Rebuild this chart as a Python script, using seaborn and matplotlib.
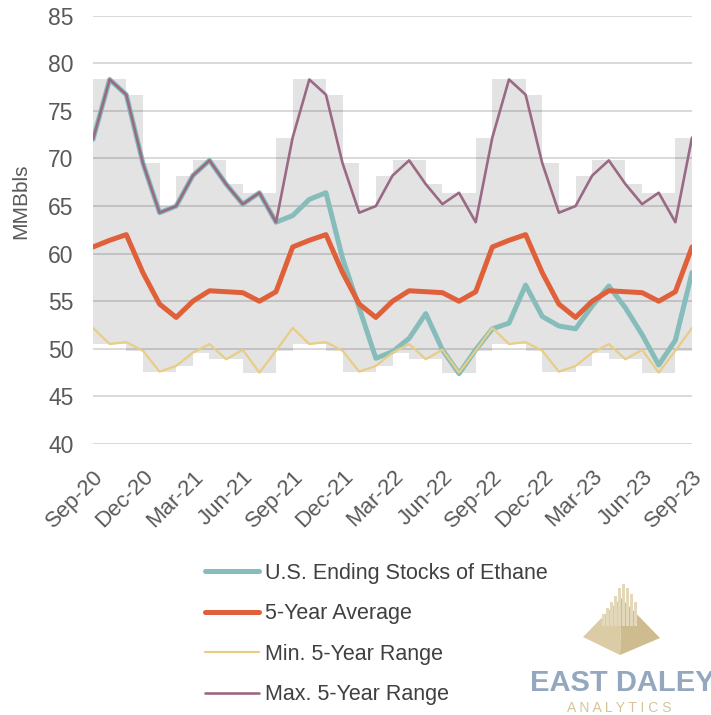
import matplotlib
matplotlib.use("Agg")
import matplotlib.pyplot as plt
import seaborn as sns
import pandas as pd
from matplotlib.patches import Polygon, Rectangle
from matplotlib.lines import Line2D

# ---------------- data ----------------
months = ["Sep-20", "Oct-20", "Nov-20", "Dec-20", "Jan-21", "Feb-21", "Mar-21", "Apr-21",
          "May-21", "Jun-21", "Jul-21", "Aug-21", "Sep-21", "Oct-21", "Nov-21", "Dec-21",
          "Jan-22", "Feb-22", "Mar-22", "Apr-22", "May-22", "Jun-22", "Jul-22", "Aug-22",
          "Sep-22", "Oct-22", "Nov-22", "Dec-22", "Jan-23", "Feb-23", "Mar-23", "Apr-23",
          "May-23", "Jun-23", "Jul-23", "Aug-23", "Sep-23"]

ethane = [72.0, 78.3, 76.7, 69.5, 64.3, 65.0, 68.2, 69.8, 67.3, 65.2, 66.4, 63.3,
          64.0, 65.7, 66.4, 59.5, 54.3, 49.0, 49.7, 51.1, 53.7, 49.9, 47.4, 49.9,
          52.1, 52.7, 56.7, 53.4, 52.4, 52.1, 54.5, 56.6, 54.3, 51.5, 48.3, 50.9, 58.0]

avg5 = [60.7, 61.4, 62.0, 58.0, 54.7, 53.3, 55.0, 56.1, 56.0, 55.9, 55.0, 56.0,
        60.7, 61.4, 62.0, 58.0, 54.7, 53.3, 55.0, 56.1, 56.0, 55.9, 55.0, 56.0,
        60.7, 61.4, 62.0, 58.0, 54.7, 53.3, 55.0, 56.1, 56.0, 55.9, 55.0, 56.0, 60.7]

min5 = [52.2, 50.5, 50.7, 49.8, 47.6, 48.2, 49.6, 50.5, 48.9, 49.9, 47.5, 49.8,
        52.2, 50.5, 50.7, 49.8, 47.6, 48.2, 49.6, 50.5, 48.9, 49.9, 47.5, 49.8,
        52.2, 50.5, 50.7, 49.8, 47.6, 48.2, 49.6, 50.5, 48.9, 49.9, 47.5, 49.8, 52.2]

max5 = [72.0, 78.3, 76.7, 69.5, 64.3, 65.0, 68.2, 69.8, 67.3, 65.2, 66.4, 63.3,
        72.2, 78.3, 76.7, 69.5, 64.3, 65.0, 68.2, 69.8, 67.3, 65.2, 66.4, 63.3,
        72.2, 78.3, 76.7, 69.5, 64.3, 65.0, 68.2, 69.8, 67.3, 65.2, 66.4, 63.3, 72.2]

series_names = ["U.S. Ending Stocks of Ethane", "5-Year Average",
                "Min. 5-Year Range", "Max. 5-Year Range"]
y_ticks = [40, 45, 50, 55, 60, 65, 70, 75, 80, 85]

# ---------------- style ----------------
sns.set_theme(style="white")
plt.rcParams["font.family"] = ["Liberation Sans", "DejaVu Sans"]

TEAL = "#86BDBB"
ORANGE = "#E0603A"
YELLOW = "#E9CD86"
MAUVE = "#9A6A85"
BAR = "#E3E3E3"
TXT = "#595959"

W, H = 711, 715
fig = plt.figure(figsize=(W / 100, H / 100), dpi=100)
ax = fig.add_axes([93 / W, 1 - 444 / H, (692 - 93) / W, (444 - 15.7) / H])

df = pd.DataFrame({"pos": range(len(months)), "month": months,
                   "ethane": ethane, "avg": avg5, "min": min5, "max": max5})

# grey 5-year range blocks
for _, r in df.iterrows():
    ax.bar(r["pos"], r["max"] - r["min"], bottom=r["min"], width=2.0,
           color=BAR, linewidth=0, zorder=1)

styles = [("ethane", TEAL, 3.6, 3), ("avg", ORANGE, 3.6, 4),
          ("min", YELLOW, 1.6, 5), ("max", MAUVE, 1.9, 6)]
for (col, c, lw, z), name in zip(styles, series_names):
    sns.lineplot(data=df, x="pos", y=col, ax=ax, color=c, linewidth=lw,
                 zorder=z, legend=False)

ax.set_xlim(0, len(months) - 1)
ax.set_ylim(40, 85)
ax.set_yticks(y_ticks)
ax.set_yticklabels([str(t) for t in y_ticks])
ax.set_xticks(df["pos"][::3])
ax.set_xticklabels(df["month"][::3], rotation=45, ha="right", va="top",
                   rotation_mode="anchor")
ax.tick_params(axis="x", length=0, pad=16, labelsize=16, labelcolor=TXT)
ax.tick_params(axis="y", length=0, pad=14, labelsize=16.5, labelcolor=TXT)
ax.set_xlabel("")
ax.set_ylabel("MMBbls", fontsize=15, color=TXT)
ax.yaxis.set_label_coords(-0.105, 0.567)

ax.set_axisbelow(False)
ax.yaxis.grid(True, color="black", alpha=0.15, linewidth=1.4, zorder=2)
ax.xaxis.grid(False)
for s in ax.spines.values():
    s.set_visible(False)

handles = [Line2D([], [], color=c, linewidth=lw, solid_capstyle="round")
           for (_, c, lw, _) in styles]
fig.legend(handles, series_names, loc="upper left",
           bbox_to_anchor=(205 / W, 1 - 563 / H), frameon=False, fontsize=15.5,
           handlelength=2.5, handletextpad=0.3, labelspacing=0.9,
           borderaxespad=0, borderpad=0, labelcolor="#404040")

# ---------------- logo ----------------
def P(x, y):
    return (x / W, 1 - y / H)

fig.add_artist(Polygon([P(621, 598), P(583, 637), P(620, 655), P(621, 628)],
                       closed=True, transform=fig.transFigure, color="#DCCCA6", lw=0))
fig.add_artist(Polygon([P(621, 598), P(660, 638), P(620, 655), P(621, 628)],
                       closed=True, transform=fig.transFigure, color="#CFBC8E", lw=0))
for x0, top in [(602, 614), (606, 608), (610, 602), (614, 596), (618, 588),
                (622, 584), (626, 588), (630, 594), (634, 602)]:
    fig.add_artist(Rectangle(P(x0, 626), 2.6 / W, (626 - top) / H,
                             transform=fig.transFigure, color="#E4D8BA", lw=0))
fig.text(530 / W, 1 - 691 / H, "EAST DALEY", fontsize=21, fontweight="bold",
         color="#93A7BF", ha="left", va="baseline", family="Liberation Sans")
fig.text(567 / W, 1 - 712 / H, "A N A L Y T I C S", fontsize=10,
         color="#D6C497", ha="left", va="baseline", family="Liberation Sans")

fig.savefig("out.png", dpi=100)
